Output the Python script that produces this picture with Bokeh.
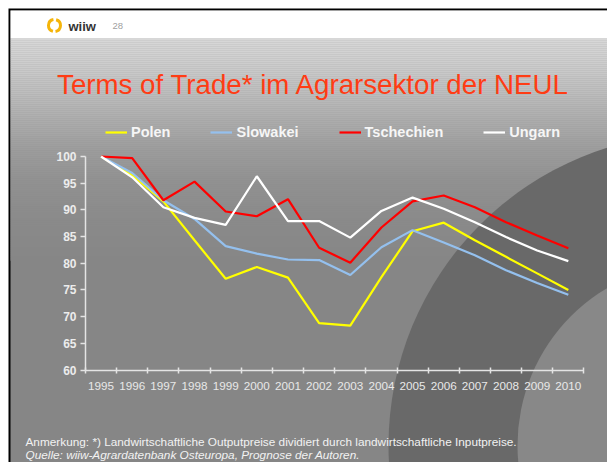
from bokeh.plotting import figure
from bokeh.models import LinearAxis, FixedTicker, Range1d, Legend, LegendItem
from bokeh.core.properties import value
from bokeh.embed import file_html
from bokeh.resources import INLINE

# ---------------- data ----------------
years = ["1995", "1996", "1997", "1998", "1999", "2000", "2001", "2002",
         "2003", "2004", "2005", "2006", "2007", "2008", "2009", "2010"]
polen = [100, 96.5, 91.6, 84.3, 77.1, 79.3, 77.3, 68.8,
         68.3, 77.4, 86.0, 87.6, 84.3, 81.2, 78.1, 75.0]
slowakei = [100, 96.9, 91.8, 88.3, 83.2, 81.8, 80.7, 80.6,
            77.8, 83.0, 86.2, 83.9, 81.5, 78.7, 76.3, 74.1]
tschechien = [100, 99.7, 91.8, 95.3, 89.7, 88.8, 92.0, 82.9,
              80.1, 86.7, 91.6, 92.7, 90.5, 87.7, 85.2, 82.8]
ungarn = [100, 96.1, 90.5, 88.5, 87.2, 96.3, 87.9, 87.9,
          84.8, 89.8, 92.3, 90.2, 87.7, 84.9, 82.4, 80.4]
series_names = ["Polen", "Slowakei", "Tschechien", "Ungarn"]
y_ticks = [60, 65, 70, 75, 80, 85, 90, 95, 100]
y_min, y_max = 60, 100

title_text = "Terms of Trade* im Agrarsektor der NEUL"
note_text = "Anmerkung: *) Landwirtschaftliche Outputpreise dividiert durch landwirtschaftliche Inputpreise."
source_text = "Quelle: wiiw-Agrardatenbank Osteuropa, Prognose der Autoren."

# ---------------- layout ----------------
W, H = 607, 462
OX, OY = 0, 0               # page position of canvas
AX_L, AX_R = 85.0, 583.4    # page x of category axis ends
Y_TOP, Y_BOT = 156.0, 369.5  # page y of y_max / y_min
n = len(years)
sx = (AX_R - AX_L) / n
x_start = -0.5 - (AX_L - OX) / sx
x_end = x_start + W / sx
sy = (Y_BOT - Y_TOP) / (y_max - y_min)
y_end = y_max + (Y_TOP - OY) / sy
y_start = y_end - H / sy


def dx(px):
    return x_start + (px - OX) / sx


def dy(py):
    return y_end - (py - OY) / sy


p = figure(width=W, height=H, x_range=Range1d(x_start, x_end),
           y_range=Range1d(y_start, y_end), x_axis_type=None, y_axis_type=None,
           toolbar_location=None, output_backend="svg", min_border=0, title=None)
p.outline_line_color = None
p.background_fill_color = "#ffffff"
p.border_fill_color = "#ffffff"

# black slide border
p.quad(left=[dx(8)], right=[dx(720)], top=[dy(8)], bottom=[dy(700)],
       fill_color="#000000", line_color=None)
# slide background
p.quad(left=[dx(10)], right=[dx(720)], top=[dy(10)], bottom=[dy(700)],
       fill_color="#868686", line_color=None)
# gradient at the top
stops = [(38, 216), (60, 206), (90, 190), (120, 172), (150, 156),
         (180, 145), (220, 138), (260, 134)]
gl, gr, gt, gb, gc = [], [], [], [], []
for (y0, c0), (y1, c1) in zip(stops[:-1], stops[1:]):
    yy = y0
    while yy < y1:
        t = (yy - y0) / (y1 - y0)
        c = int(round(c0 + (c1 - c0) * t))
        gl.append(dx(10)); gr.append(dx(720))
        gt.append(dy(yy)); gb.append(dy(yy + 2.2))
        gc.append("#%02x%02x%02x" % (c, c, c))
        yy += 2
p.quad(left=gl, right=gr, top=gt, bottom=gb, fill_color=gc, line_color=None)
# decorative circles
p.circle(x=[dx(700)], y=[dy(445)], radius=312, radius_units="screen",
         fill_color="#696969", line_color=None)
p.circle(x=[dx(700)], y=[dy(445)], radius=183, radius_units="screen",
         fill_color="#888888", line_color=None)
# white header band
p.quad(left=[dx(10)], right=[dx(720)], top=[dy(10)], bottom=[dy(38)],
       fill_color="#ffffff", line_color=None)
# logo
p.arc(x=[dx(54)], y=[dy(25)], radius=6, radius_units="screen",
      start_angle=1.75, end_angle=4.45, line_color="#f5b50a", line_width=3)
p.arc(x=[dx(54)], y=[dy(25)], radius=6, radius_units="screen",
      start_angle=-1.4, end_angle=1.3, line_color="#f5b50a", line_width=3)
p.text(x=[dx(68)], y=[dy(25.5)], text=["wiiw"], text_baseline="middle",
       text_font=value("Liberation Sans"), text_font_style="bold",
       text_font_size=value("13px"), text_color="#333333")
p.text(x=[dx(112)], y=[dy(25.5)], text=["28"], text_baseline="middle",
       text_font=value("Liberation Sans"), text_font_size=value("9.5px"),
       text_color="#a0a0a0")
# title
p.text(x=[dx(313)], y=[dy(83.5)], text=[title_text], text_align="center",
       text_baseline="alphabetic", text_font=value("Liberation Sans"),
       text_font_size=value("27.7px"), text_color="#ff3c14")
# footnotes
p.text(x=[dx(25)], y=[dy(441.5)], text=[note_text], text_baseline="alphabetic",
       text_font=value("Liberation Sans"), text_font_size=value("11.8px"),
       text_color="#f2f2f2")
p.text(x=[dx(25)], y=[dy(454.5)], text=[source_text], text_baseline="alphabetic",
       text_font=value("Liberation Sans"), text_font_style="italic",
       text_font_size=value("11.8px"), text_color="#f2f2f2")

# ---------------- axes ----------------
axis_col = "#e4e4e4"
yax = LinearAxis(fixed_location=-0.5, ticker=FixedTicker(ticks=y_ticks),
                 bounds=(y_min, y_max))
yax.axis_line_color = axis_col
yax.axis_line_width = 1.5
yax.major_tick_line_color = axis_col
yax.major_tick_line_width = 1.5
yax.major_tick_in = 0
yax.major_tick_out = 5
yax.minor_tick_line_color = None
yax.major_label_text_font = "Liberation Sans"
yax.major_label_text_font_style = "bold"
yax.major_label_text_font_size = "12px"
yax.major_label_text_color = "#ececec"
yax.major_label_standoff = 4
p.add_layout(yax, "left")

xax = LinearAxis(fixed_location=y_min,
                 ticker=FixedTicker(ticks=[i - 0.5 for i in range(n + 1)]),
                 bounds=(-0.5, n - 0.5))
xax.axis_line_color = axis_col
xax.axis_line_width = 1.5
xax.major_tick_line_color = axis_col
xax.major_tick_line_width = 1.5
xax.major_tick_in = 3
xax.major_tick_out = 3
xax.minor_tick_line_color = None
xax.major_label_text_color = None
p.add_layout(xax, "below")

xlab = LinearAxis(fixed_location=y_min, ticker=FixedTicker(ticks=list(range(n))),
                  major_label_overrides={i: yr for i, yr in enumerate(years)})
xlab.axis_line_color = None
xlab.major_tick_line_color = None
xlab.major_tick_in = 0
xlab.major_tick_out = 0
xlab.minor_tick_line_color = None
xlab.major_label_standoff = 12
xlab.major_label_text_font = "Liberation Sans"
xlab.major_label_text_font_size = "11.7px"
xlab.major_label_text_color = "#e8e8e8"
p.add_layout(xlab, "below")

# ---------------- series ----------------
xs = list(range(n))
colors = ["#ffff00", "#94c0ee", "#ff0000", "#ffffff"]
renderers = []
for vals, col in zip([polen, slowakei, tschechien, ungarn], colors):
    renderers.append(p.line(xs, vals, line_color=col, line_width=2.2))

legend = Legend(items=[LegendItem(label=nm, renderers=[r])
                       for nm, r in zip(series_names, renderers)],
                orientation="horizontal", location=(105, H - 141.7),
                padding=0, margin=0, spacing=40, glyph_width=22, glyph_height=20,
                label_standoff=4, background_fill_alpha=0, border_line_color=None,
                label_text_font="Liberation Sans", label_text_font_style="bold",
                label_text_font_size="14.5px", label_text_color="#f6f6f6")
p.add_layout(legend)

open("out.html", "w").write(file_html(p, INLINE))
